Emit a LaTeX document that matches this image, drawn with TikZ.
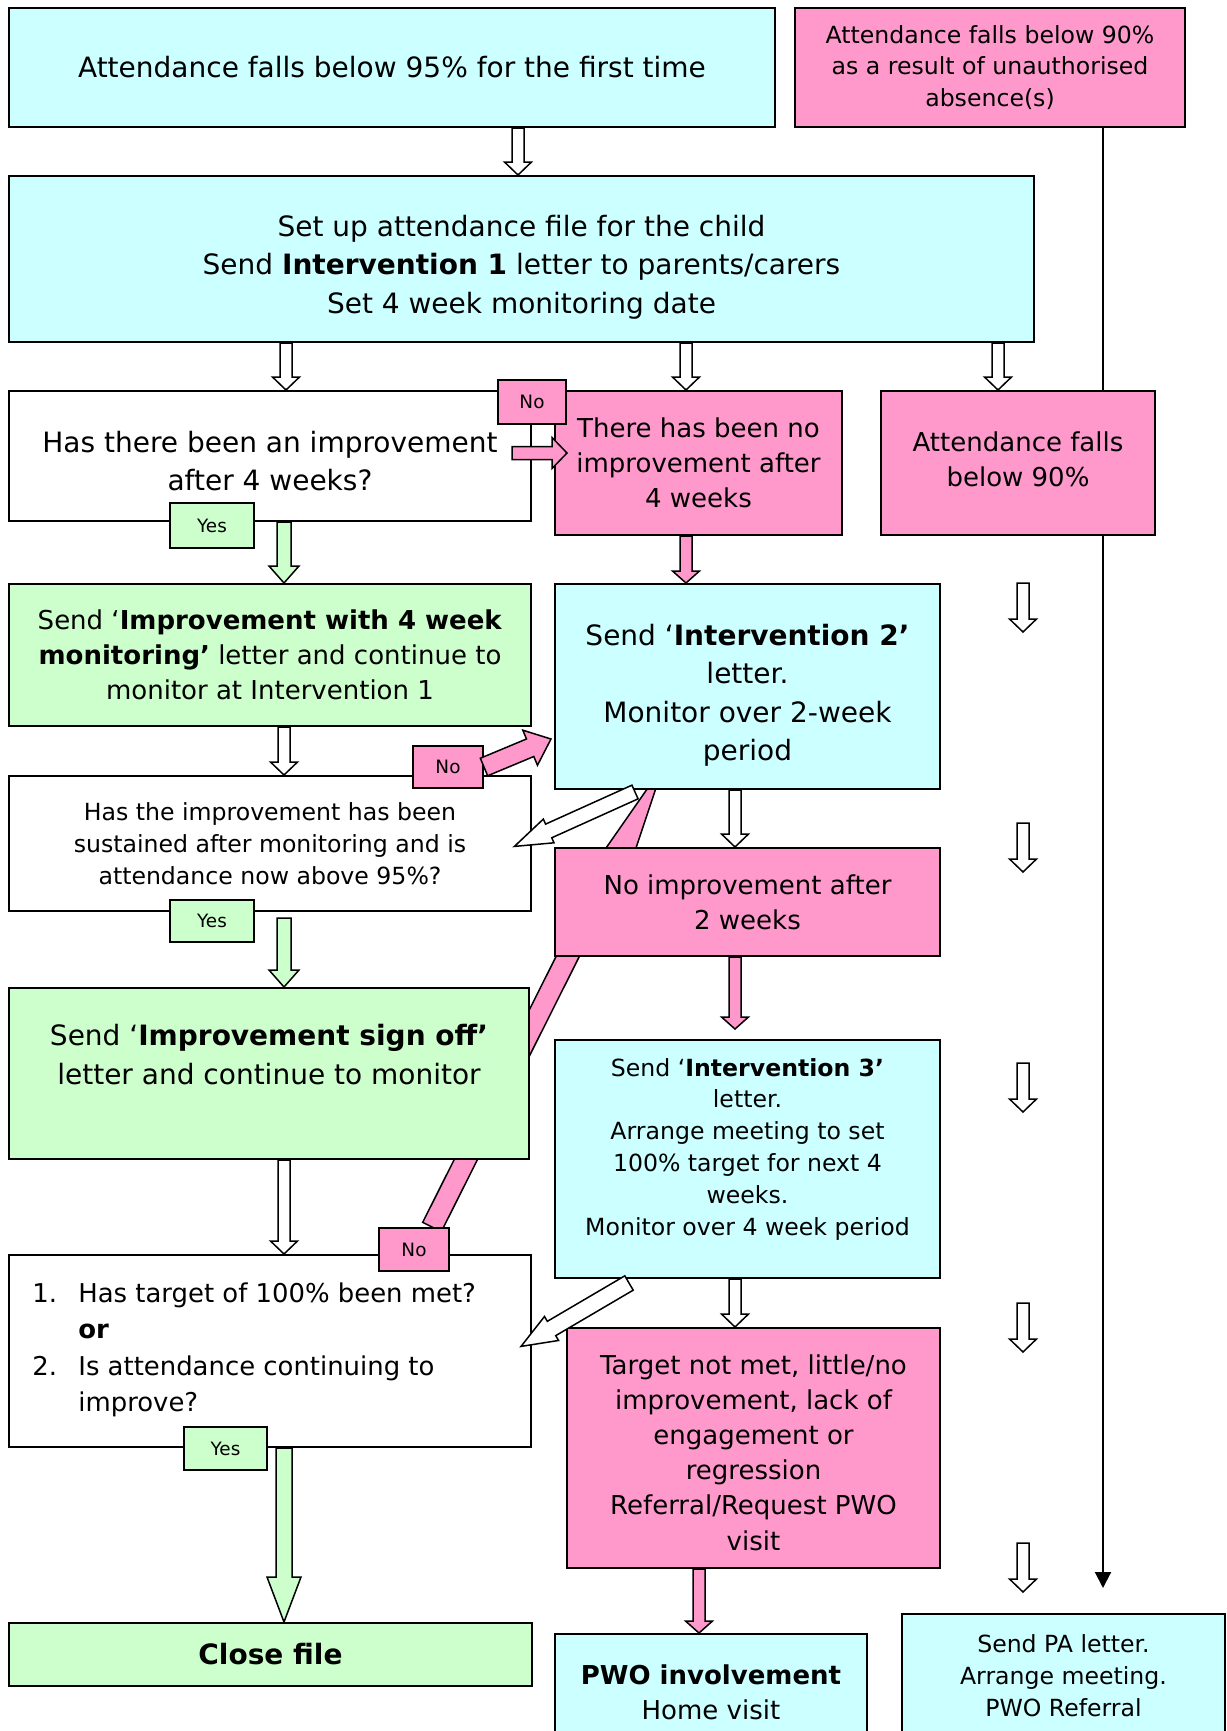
\documentclass[tikz,border=0pt]{standalone}
\usepackage{fontspec}
\setmainfont{DejaVu Sans}
\usetikzlibrary{calc,arrows.meta}

\definecolor{cyanfill}{HTML}{CCFFFF}
\definecolor{pinkfill}{HTML}{FF99CC}
\definecolor{greenfill}{HTML}{CCFFCC}

\pgfdeclarelayer{background}
\pgfsetlayers{background,main}

\tikzset{
  barfill/.store in=\barfill, barshaft/.store in=\barshaft,
  barhead/.store in=\barhead, barlen/.store in=\barlen,
  barfill=white, barshaft=3pt, barhead=6.75pt, barlen=6.5pt,
  hollow/.style={barfill=white, barshaft=3pt, barhead=6.75pt, barlen=6.5pt},
  pinkarr/.style={barfill=pinkfill, barshaft=3pt, barhead=6.75pt, barlen=6pt},
  greenarr/.style={barfill=greenfill, barshaft=3.5pt, barhead=7.5pt, barlen=8.5pt},
  box/.style={draw, line width=1pt, align=center, inner sep=1pt},
  cyanbox/.style={box, fill=cyanfill},
  pinkbox/.style={box, fill=pinkfill},
  greenbox/.style={box, fill=greenfill},
  whitebox/.style={box, fill=white},
  boxtext/.style={align=center, inner sep=0pt},
  yesno/.style={draw, line width=1pt, inner sep=0pt, font=\fontsize{9.2}{11}\selectfont},
  txtl/.style={font=\fontsize{14}{19.3}\selectfont},
  txtm/.style={font=\fontsize{13}{17.6}\selectfont},
  txts/.style={font=\fontsize{11.8}{15.9}\selectfont},
}

% block arrow from #2 to #3
\newcommand\blockarrow[3][]{%
  \begin{scope}[#1]
    \coordinate (ba0) at (#2);
    \coordinate (ba1) at (#3);
    \coordinate (ba2) at ($(ba1)!\barlen!(ba0)$);
    \filldraw[fill=\barfill, line width=0.75pt, line join=miter]
      ($(ba0)!\barshaft!90:(ba1)$) -- ($(ba2)!\barshaft!90:(ba1)$)
      -- ($(ba2)!\barhead!90:(ba1)$) -- (ba1)
      -- ($(ba2)!\barhead!-90:(ba1)$) -- ($(ba2)!\barshaft!-90:(ba1)$)
      -- ($(ba0)!\barshaft!-90:(ba1)$) -- cycle;
  \end{scope}}

\begin{document}
\begin{tikzpicture}[x=1pt,y=-1pt]
  \useasboundingbox (0,0) rectangle (613.5,865.5);

  % columns of the arrows
  \coordinate (xac) at (259,0);
  \coordinate (xcd) at (143,0);
  \coordinate (xce) at (343,0);
  \coordinate (xcf) at (499,0);
  \coordinate (xl) at (142,0);
  \coordinate (xm) at (367.5,0);
  \coordinate (xn) at (349.5,0);

  % boxes
  \node[cyanbox, txtl, minimum width=383pt, minimum height=59.5pt] (first) at (196,33.75)
    {Attendance falls below 95\% for the first time};
  \node[pinkbox, txts, minimum width=195pt, minimum height=59.5pt] (unauth) at (495,33.75)
    {Attendance falls below 90\%\\as a result of unauthorised\\absence(s)};
  \node[cyanbox, minimum width=512.5pt, minimum height=83pt] (setup) at (260.75,129.5) {};
  \node[boxtext, txtl] (setuptxt) at ($(setup)+(0,4)$)
    {Set up attendance file for the child\\Send \textbf{Intervention 1} letter to parents/carers\\Set 4 week monitoring date};
  \node[whitebox, minimum width=261pt, minimum height=65pt] (q4wk) at (135,228) {};
  \node[boxtext, txtl] (q4wktxt) at ($(q4wk)+(0,2.5)$)
    {Has there been an improvement\\after 4 weeks?};
  \node[pinkbox, txtm, minimum width=143.5pt, minimum height=72pt] (noimp4) at (349.25,231.5)
    {There has been no\\improvement after\\4 weeks};
  \node[pinkbox, minimum width=137pt, minimum height=72pt] (below90) at (509,231.5) {};
  \node[boxtext, txtm] (below90txt) at ($(below90)+(0,-2)$)
    {Attendance falls\\below 90\%};
  \node[greenbox, txtm, minimum width=261pt, minimum height=71pt] (imp4) at (135,327.5)
    {Send ‘\textbf{Improvement with 4 week}\\\textbf{monitoring’} letter and continue to\\monitor at Intervention 1};
  \node[cyanbox, minimum width=192.5pt, minimum height=102.5pt] (int2) at (373.75,343.25) {};
  \node[boxtext, txtl] (int2txt) at ($(int2)+(0,4.4)$)
    {Send ‘\textbf{Intervention 2’}\\letter.\\Monitor over 2-week\\period};
  \node[whitebox, txts, minimum width=261pt, minimum height=67.5pt] (qsust) at (135,421.75)
    {Has the improvement has been\\sustained after monitoring and is\\attendance now above 95\%?};
  \node[pinkbox, txtm, minimum width=192.5pt, minimum height=54pt] (noimp2) at (373.75,451)
    {No improvement after\\2 weeks};
  \node[greenbox, txtl, minimum width=260pt, minimum height=85.5pt] (signoff) at (134.5,536.75)
    {Send ‘\textbf{Improvement sign off’}\\letter and continue to monitor\\\mbox{}};
  \node[cyanbox, minimum width=192.5pt, minimum height=119pt] (int3) at (373.75,579.5) {};
  \node[boxtext, txts] (int3txt) at ($(int3)+(0,-5)$)
    {Send ‘\textbf{Intervention 3’}\\letter.\\Arrange meeting to set\\100\% target for next 4\\weeks.\\Monitor over 4 week period};
  \node[whitebox, minimum width=261pt, minimum height=96pt] (qtarget) at (135,675.5) {};
  \node[anchor=north west, inner sep=0pt, font=\fontsize{12.95}{18.25}\selectfont] (qlist) at (16,638.2)
    {\begin{tabular}{@{}p{23pt}@{}l@{}}
      1.&Has target of 100\% been met?\\
        &\textbf{or}\\
      2.&Is attendance continuing to\\
        &improve?
    \end{tabular}};
  \node[pinkbox, minimum width=186.5pt, minimum height=120pt] (notmet) at (376.75,724) {};
  \node[boxtext, txtm] (notmettxt) at ($(notmet)+(0,2.2)$)
    {Target not met, little/no\\improvement, lack of\\engagement or\\regression\\Referral/Request PWO\\visit};
  \node[greenbox, txtl, minimum width=261.5pt, minimum height=31.5pt] (close) at (135.25,827.25)
    {\textbf{Close file}};
  \node[cyanbox, txtm, minimum width=156pt, minimum height=58pt] (pwo) at (355.5,846)
    {\textbf{PWO involvement}\\Home visit};
  \node[cyanbox, minimum width=161.5pt, minimum height=68pt] (paletter) at (531.75,841) {};
  \node[boxtext, txts] (palettertxt) at ($(paletter)+(0,-3.3)$)
    {Send PA letter.\\Arrange meeting.\\PWO Referral};

  % yes / no tags
  \node[yesno, fill=pinkfill, minimum width=34pt, minimum height=22pt] (no1) at (266,201) {No};
  \node[yesno, fill=greenfill, minimum width=42pt, minimum height=22.5pt] (yes1) at (106,262.75) {Yes};
  \node[yesno, fill=pinkfill, minimum width=35pt, minimum height=21pt] (no2) at (224,383.5) {No};
  \node[yesno, fill=greenfill, minimum width=42pt, minimum height=21pt] (yes2) at (106,460.5) {Yes};
  \node[yesno, fill=pinkfill, minimum width=35pt, minimum height=21.5pt] (no3) at (207,624.75) {No};
  \node[yesno, fill=greenfill, minimum width=41.5pt, minimum height=21.5pt] (yes3) at (112.75,724.25) {Yes};

  % behind the boxes
  \begin{pgfonlayer}{background}
    \coordinate (paend) at (551.5,794);
    \draw[line width=1pt, -{Triangle[length=8pt,width=8pt]}] (unauth.south -| paend) -- (paend);
    \blockarrow[barfill=pinkfill, barshaft=5.2pt, barhead=10.4pt, barlen=72pt]
      {$(no3.north)+(9,0)$}{$(int2.south west)+(54.75,-12.25)$}
  \end{pgfonlayer}

  % arrows
  \blockarrow[hollow]{first.south -| xac}{setup.north -| xac}
  \blockarrow[hollow]{setup.south -| xcd}{q4wk.north -| xcd}
  \blockarrow[hollow]{setup.south -| xce}{noimp4.north -| xce}
  \blockarrow[hollow]{setup.south -| xcf}{below90.north -| xcf}
  \blockarrow[pinkarr, barshaft=3.25pt, barhead=7.75pt, barlen=7.5pt]
    {$(q4wk.east)+(-10,-1.5)$}{$(noimp4.west)+(6.5,-5)$}
  \blockarrow[greenarr]{q4wk.south -| xl}{imp4.north -| xl}
  \blockarrow[pinkarr]{noimp4.south -| xce}{int2.north -| xce}
  \blockarrow[hollow]{imp4.south -| xl}{qsust.north -| xl}
  \blockarrow[pinkarr, barshaft=4.75pt, barhead=9.5pt, barlen=11.3pt]
    {no2.east}{$(int2.south west)+(-1.5,-25.5)$}
  \blockarrow[hollow, barshaft=3.75pt, barhead=6.5pt, barlen=18.8pt]
    {$(int2.south west)+(40.5,1)$}{$(qsust.north east)+(-8.8,35.7)$}
  \blockarrow[hollow]{int2.south -| xm}{noimp2.north -| xm}
  \blockarrow[greenarr]{$(qsust.south -| xl)+(0,3)$}{signoff.north -| xl}
  \blockarrow[pinkarr]{noimp2.south -| xm}{$(int3.north -| xm)+(0,-5)$}
  \blockarrow[hollow]{signoff.south -| xl}{qtarget.north -| xl}
  \blockarrow[hollow]{int3.south -| xm}{notmet.north -| xm}
  \blockarrow[hollow, barshaft=4.15pt, barhead=6.95pt, barlen=17.7pt]
    {$(int3.south west)+(37.5,2)$}{$(qtarget.north east)+(-5.5,46.2)$}
  \blockarrow[greenarr, barshaft=4pt, barhead=8.5pt, barlen=22.5pt]{qtarget.south -| xl}{close.north -| xl}
  \blockarrow[pinkarr]{notmet.south -| xn}{pwo.north -| xn}

  % free arrows down the right
  \foreach \i in {0,...,4} {
    \coordinate (rtop\i) at (511.5,291.5+120*\i);
    \coordinate (rbot\i) at (511.5,316+120*\i);
    \blockarrow[hollow]{rtop\i}{rbot\i}
  }
\end{tikzpicture}
\end{document}
